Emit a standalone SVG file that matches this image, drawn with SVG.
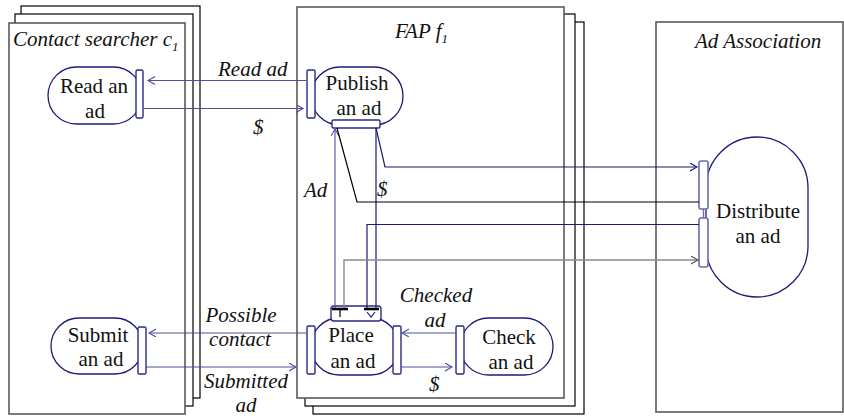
<svg xmlns="http://www.w3.org/2000/svg" width="844" height="416" viewBox="0 0 844 416">
  <style>
    .frame { fill: #fff; stroke: #000; stroke-width: 1.2; }
    .frame-front { fill: #fff; stroke: #5a5a5a; stroke-width: 1.6; }
    .serif { font-family: "Liberation Serif", Tinos, "Times New Roman", "Nimbus Roman", "DejaVu Serif", serif; }
    .title { font-style: italic; font-size: 21px; fill: #111; }
    .sub { font-size: 13px; }
    .node { fill: #fff; stroke: #1c1c7a; stroke-width: 1.3; }
    .port { fill: #fff; stroke: #2a2a88; stroke-width: 1.4; }
    .port-light { fill: #fff; stroke: #6a6ab0; stroke-width: 1.6; }
    .ntext { font-size: 21px; fill: #111; text-anchor: middle; }
    .lbl { font-style: italic; font-size: 21px; fill: #111; }
    .mid { text-anchor: middle; }
    .c-blue { fill: none; stroke: #4f4fa0; stroke-width: 1.1; }
    .c-navy { fill: none; stroke: #1a1a78; stroke-width: 1.2; }
    .c-black { fill: none; stroke: #000; stroke-width: 1.2; }
    .c-gray { fill: none; stroke: #8a8a8a; stroke-width: 1.4; }
    .bar { stroke: #000; stroke-width: 2.6; }
  </style>
  <defs>
    <marker id="arr-blue" markerUnits="userSpaceOnUse" markerWidth="10" markerHeight="10" refX="7" refY="4" orient="auto">
      <path d="M0,0 L7,4 L0,8" fill="none" stroke="#4f4fa0" stroke-width="1.1"/>
    </marker>
    <marker id="arr-navy" markerUnits="userSpaceOnUse" markerWidth="10" markerHeight="10" refX="7" refY="4" orient="auto">
      <path d="M0,0 L7,4 L0,8" fill="none" stroke="#1a1a78" stroke-width="1.1"/>
    </marker>
    <marker id="arr-gray" markerUnits="userSpaceOnUse" markerWidth="10" markerHeight="10" refX="7" refY="4" orient="auto">
      <path d="M0,0 L7,4 L0,8" fill="none" stroke="#555" stroke-width="1.1"/>
    </marker>
  </defs>

  <!-- Swimlane: contact searcher (stacked instances) -->
  <g id="lane-contact-searcher">
    <rect class="frame" x="21" y="6" width="179" height="392"/>
    <rect class="frame" x="15" y="14" width="178" height="392"/>
    <rect class="frame-front" x="9" y="23" width="176" height="391"/>
    <text class="serif title" x="13" y="46">Contact searcher c<tspan class="sub" dy="5">1</tspan></text>
  </g>

  <!-- Swimlane: FAP (stacked instances) -->
  <g id="lane-fap">
    <rect class="frame" x="313" y="22" width="271" height="392"/>
    <rect class="frame" x="305" y="14" width="270" height="392"/>
    <rect class="frame-front" x="297" y="7" width="267" height="391"/>
    <text class="serif title" x="395" y="38">FAP f<tspan class="sub" dy="5">1</tspan></text>
  </g>

  <!-- Swimlane: ad association -->
  <g id="lane-ad-association">
    <rect class="frame-front" x="656" y="22" width="187" height="390"/>
    <text class="serif title" x="695" y="48">Ad Association</text>
  </g>

  <!-- Process nodes -->
  <g id="node-read-an-ad">
    <rect class="node" x="48" y="67" width="94" height="57" rx="28.5"/>
    <rect class="port" x="136" y="70" width="7" height="48" rx="1.5"/>
    <text class="serif ntext" x="94" y="93">Read an</text>
    <text class="serif ntext" x="95" y="118">ad</text>
  </g>

  <g id="node-publish-an-ad">
    <rect class="node" x="311" y="67" width="92" height="58" rx="29"/>
    <rect class="port" x="307" y="70" width="8" height="48" rx="1.5"/>
    <rect class="port" x="332" y="120" width="48" height="8" rx="1.5"/>
    <text class="serif ntext" x="357" y="90">Publish</text>
    <text class="serif ntext" x="359" y="115">an ad</text>
  </g>

  <g id="node-submit-an-ad">
    <rect class="node" x="51" y="318" width="92" height="56" rx="28"/>
    <rect class="port" x="138" y="327" width="8" height="47" rx="1.5"/>
    <text class="serif ntext" x="98" y="342">Submit</text>
    <text class="serif ntext" x="101" y="366">an ad</text>
  </g>

  <g id="node-place-an-ad">
    <rect class="node" x="311" y="318" width="88" height="57" rx="28"/>
    <rect class="port" x="307" y="326" width="8" height="48" rx="1.5"/>
    <rect class="port" x="393" y="326" width="8" height="48" rx="1.5"/>
    <rect class="port" x="331" y="306" width="50" height="15" rx="3"/>
    <text class="serif ntext" x="351" y="342">Place</text>
    <text class="serif ntext" x="353" y="368">an ad</text>
  </g>

  <g id="node-check-an-ad">
    <rect class="node" x="460" y="318" width="93" height="57" rx="28.5"/>
    <rect class="port" x="456" y="326" width="8" height="48" rx="1.5"/>
    <text class="serif ntext" x="509" y="344">Check</text>
    <text class="serif ntext" x="511" y="369">an ad</text>
  </g>

  <g id="node-distribute-an-ad">
    <rect class="node" x="706" y="137" width="102" height="160" rx="51"/>
    <line x1="703.5" y1="209" x2="703.5" y2="218" stroke="#6a6ab0" stroke-width="1.4"/>
    <rect class="port-light" x="699" y="161" width="9" height="48" rx="2"/>
    <rect class="port-light" x="699" y="218" width="9" height="49" rx="2"/>
    <text class="serif ntext" x="758" y="218">Distribute</text>
    <text class="serif ntext" x="758" y="243">an ad</text>
  </g>

  <!-- Connectors -->
  <g id="connectors">
    <path class="c-blue" d="M306,80.5 H148" marker-end="url(#arr-blue)"/>
    <path class="c-blue" d="M143,108.5 H303" marker-end="url(#arr-blue)"/>
    <path class="c-blue" d="M307,333 H149" marker-end="url(#arr-blue)"/>
    <path class="c-blue" d="M146,367 H296" marker-end="url(#arr-blue)"/>
    <path class="c-blue" d="M456,333 H402" marker-end="url(#arr-blue)"/>
    <path class="c-blue" d="M401,367 H452" marker-end="url(#arr-blue)"/>

    <path class="c-blue" d="M335,309 V129" marker-end="url(#arr-blue)"/>
    <path class="c-navy" d="M376,128 V309"/>
    <path class="c-navy" d="M376,128 L385,167 H697" marker-end="url(#arr-navy)"/>
    <path class="c-black" d="M699,202 H357 L337,128"/>
    <path class="c-navy" d="M367,309 V224.5 H699"/>
    <path class="c-gray" d="M344,309 V260 H698" marker-end="url(#arr-gray)"/>

    <!-- join bars inside the top port of "Place an ad" -->
    <line class="bar" x1="332" y1="309" x2="348" y2="309"/>
    <line class="c-black" x1="340" y1="309" x2="340" y2="317"/>
    <line class="bar" x1="364" y1="309" x2="379" y2="309"/>
    <path class="c-navy" d="M367,312 L371,317 L375,312"/>
  </g>

  <!-- Connector labels -->
  <g id="labels">
    <text class="serif lbl" x="218" y="76">Read ad</text>
    <text class="serif lbl" x="253" y="134">$</text>
    <text class="serif lbl" x="304" y="197">Ad</text>
    <text class="serif lbl" x="377" y="196">$</text>
    <text class="serif lbl mid" x="241" y="322">Possible</text>
    <text class="serif lbl mid" x="240" y="346">contact</text>
    <text class="serif lbl mid" x="246" y="388">Submitted</text>
    <text class="serif lbl mid" x="246" y="412">ad</text>
    <text class="serif lbl mid" x="436" y="302">Checked</text>
    <text class="serif lbl mid" x="435" y="327">ad</text>
    <text class="serif lbl" x="429" y="391">$</text>
  </g>
</svg>
